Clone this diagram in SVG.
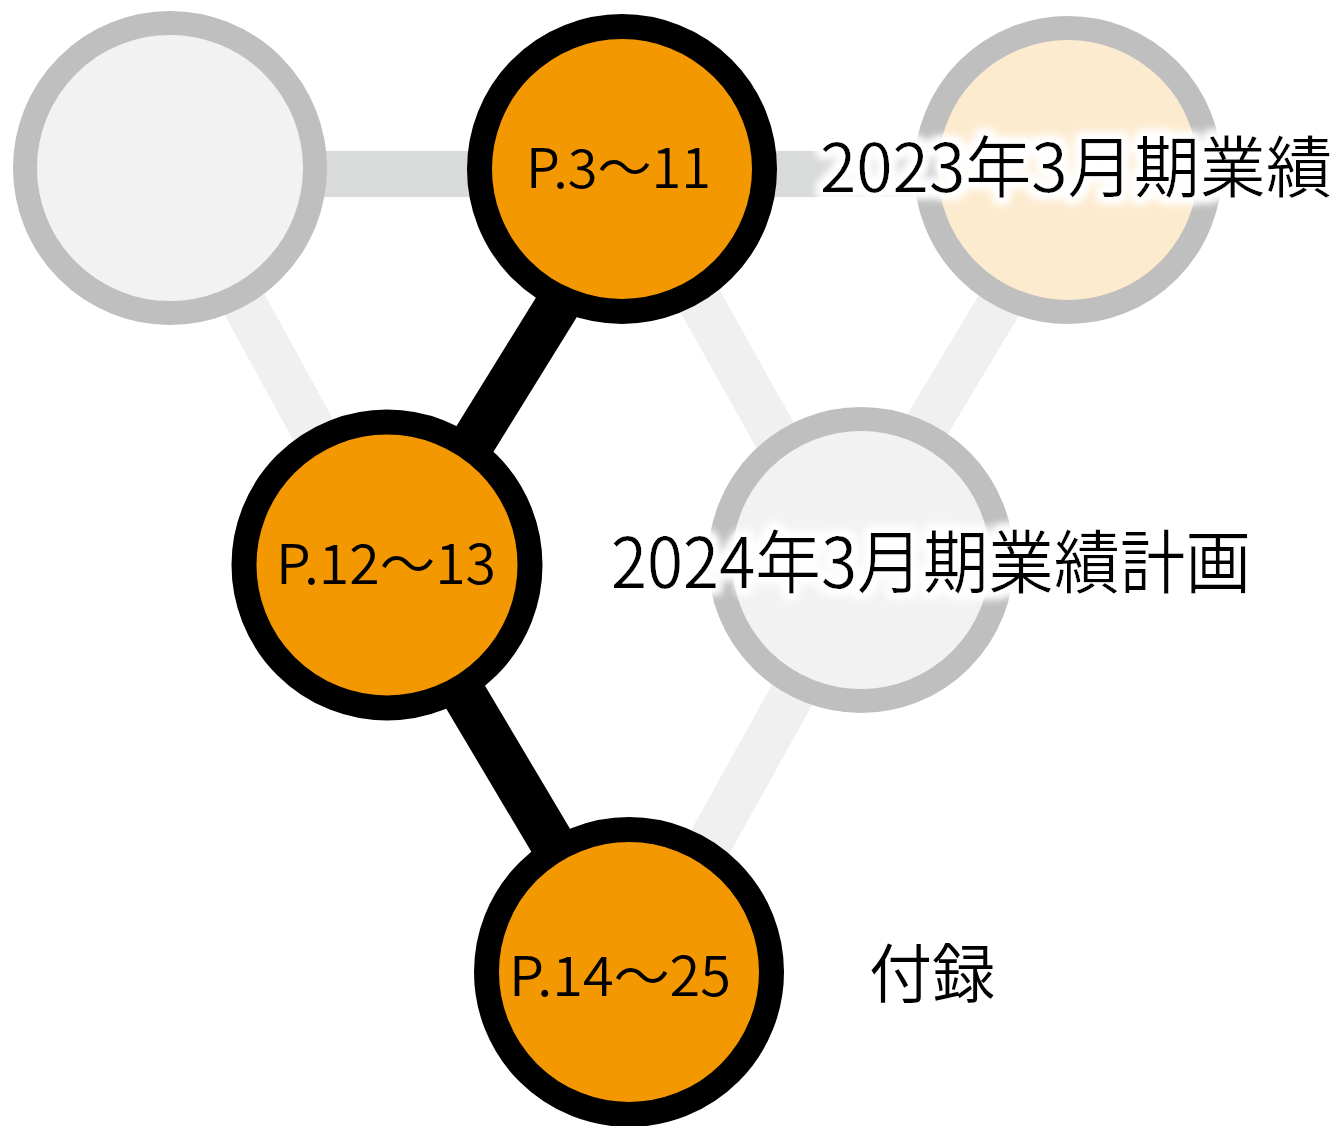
<svg xmlns="http://www.w3.org/2000/svg" width="1341" height="1126" viewBox="0 0 1341 1126">
<defs>
<filter id="glow" x="-10%" y="-40%" width="120%" height="180%">
<feMorphology in="SourceAlpha" operator="dilate" radius="5" result="d"/>
<feGaussianBlur in="d" stdDeviation="4" result="b"/>
<feFlood flood-color="#ffffff"/>
<feComposite in2="b" operator="in" result="w"/>
<feMerge><feMergeNode in="w"/><feMergeNode in="w"/><feMergeNode in="SourceGraphic"/></feMerge>
</filter>
</defs>
<style>
.lnh{stroke:#d9dbda;stroke-width:46;fill:none}
.lng{stroke:#eff0ef;stroke-width:45;fill:none}
.lnb{stroke:#000;stroke-width:45;fill:none}
.gray{fill:#f2f2f2;stroke:#bfbfbf;stroke-width:24}
.peach{fill:#fdebd0;stroke:#bfbfbf;stroke-width:24}
.act{fill:#f39800;stroke:#000;stroke-width:25}
.t{font-family:"Noto Sans CJK JP","Noto Sans",sans-serif;font-weight:350;fill:#000}
</style>
<rect width="1341" height="1126" fill="#ffffff"/>
<g id="connectors">
<line class="lnh" x1="170" y1="174" x2="622" y2="174"/>
<line class="lnh" x1="622" y1="174" x2="1068" y2="174"/>
<line class="lng" x1="170" y1="168" x2="387" y2="565"/>
<line class="lng" x1="626" y1="169" x2="845" y2="560"/>
<line class="lng" x1="1080" y1="170" x2="846" y2="560"/>
<line class="lng" x1="867" y1="560" x2="638" y2="972"/>
<line class="lnb" x1="642" y1="169" x2="397" y2="565"/>
<line class="lnb" x1="387" y1="565" x2="629" y2="972"/>
</g>
<g id="node-topleft"><circle class="gray" cx="170" cy="168" r="145"/></g>
<g id="node-p3"><circle class="act" cx="622" cy="169" r="142.5"/>
<text class="t" x="526" y="188" font-size="54" textLength="185" lengthAdjust="spacingAndGlyphs">P.3〜11</text></g>
<g id="node-topright"><circle class="peach" cx="1068" cy="170" r="142"/></g>
<g id="node-p12"><circle class="act" cx="387" cy="565" r="143"/>
<text class="t" x="276" y="584" font-size="55" textLength="220" lengthAdjust="spacingAndGlyphs">P.12〜13</text></g>
<g id="node-midright"><circle class="gray" cx="861" cy="560" r="141"/></g>
<g id="node-p14"><circle class="act" cx="629" cy="972" r="142.5"/>
<text class="t" x="509" y="996" font-size="55" textLength="222" lengthAdjust="spacingAndGlyphs">P.14〜25</text></g>
<g id="labels">
<text class="t" x="820" y="192" font-size="67" textLength="512" lengthAdjust="spacingAndGlyphs" filter="url(#glow)">2023年3月期業績</text>
<text class="t" x="611" y="588" font-size="69" textLength="640" lengthAdjust="spacingAndGlyphs" filter="url(#glow)">2024年3月期業績計画</text>
<text class="t" x="869" y="997" font-size="64" textLength="126" lengthAdjust="spacingAndGlyphs">付録</text>
</g>
</svg>
